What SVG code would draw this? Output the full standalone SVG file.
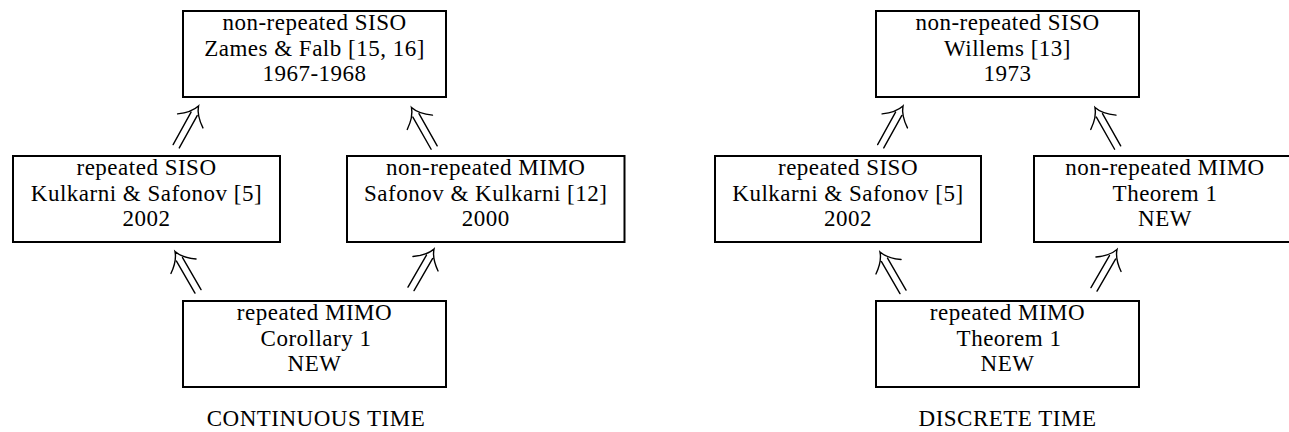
<svg xmlns="http://www.w3.org/2000/svg" width="1289" height="432" viewBox="0 0 1289 432">
<defs>
<style>
.box{fill:#fff;stroke:#000;stroke-width:2}
.t{font-family:"Liberation Serif","Times New Roman",serif;font-size:23px;letter-spacing:0.5px;fill:#000;text-anchor:middle}
.arr{fill:none;stroke:#000;stroke-width:1.4;stroke-linecap:round}
</style>
<path id="dbl" d="M -46,-3.5 L -9,-3.5 M -46,3.5 L -9,3.5 M -17,-14.5 Q -9,-3 0,0 Q -9,3 -17,14.5"/>
</defs>
<rect width="1289" height="432" fill="#fff"/>

<g id="connectors" class="arr">
<use href="#dbl" transform="translate(198.5,106) rotate(-61)"/>
<use href="#dbl" transform="translate(411.5,107.5) rotate(-119.5)"/>
<use href="#dbl" transform="translate(175,251.5) rotate(-120)"/>
<use href="#dbl" transform="translate(434,249) rotate(-60)"/>
<use href="#dbl" transform="translate(903,106) rotate(-61)"/>
<use href="#dbl" transform="translate(1095,107.5) rotate(-119.5)"/>
<use href="#dbl" transform="translate(880,252) rotate(-120)"/>
<use href="#dbl" transform="translate(1117,249.5) rotate(-60)"/>
</g>

<g id="ct-top">
<rect class="box" x="183" y="11" width="263" height="86"/>
<text class="t" x="314.5" y="30">non-repeated SISO</text>
<text class="t" x="314.5" y="55.5">Zames &amp; Falb [15, 16]</text>
<text class="t" x="314.5" y="81">1967-1968</text>
</g>
<g id="ct-midleft">
<rect class="box" x="13" y="156" width="267" height="86"/>
<text class="t" x="146.5" y="175">repeated SISO</text>
<text class="t" x="146.5" y="200.5">Kulkarni &amp; Safonov [5]</text>
<text class="t" x="146.5" y="226">2002</text>
</g>
<g id="ct-midright">
<rect class="box" x="347" y="156" width="277.5" height="86"/>
<text class="t" x="485.75" y="175">non-repeated MIMO</text>
<text class="t" x="485.75" y="200.5">Safonov &amp; Kulkarni [12]</text>
<text class="t" x="485.75" y="226">2000</text>
</g>
<g id="ct-bottom">
<rect class="box" x="183" y="301" width="263" height="86"/>
<text class="t" x="314.5" y="320">repeated MIMO</text>
<text class="t" x="316" y="345.5">Corollary 1</text>
<text class="t" x="314.5" y="371">NEW</text>
</g>
<text id="ct-label" class="t" x="316" y="426">CONTINUOUS TIME</text>

<g id="dt-top">
<rect class="box" x="876" y="11" width="263" height="86"/>
<text class="t" x="1007.5" y="30">non-repeated SISO</text>
<text class="t" x="1007.5" y="55.5">Willems [13]</text>
<text class="t" x="1007.5" y="81">1973</text>
</g>
<g id="dt-midleft">
<rect class="box" x="715" y="156" width="266" height="86"/>
<text class="t" x="848" y="175">repeated SISO</text>
<text class="t" x="848" y="200.5">Kulkarni &amp; Safonov [5]</text>
<text class="t" x="848" y="226">2002</text>
</g>
<g id="dt-midright">
<rect class="box" x="1034" y="156" width="280" height="86"/>
<text class="t" x="1165" y="175">non-repeated MIMO</text>
<text class="t" x="1165" y="200.5">Theorem 1</text>
<text class="t" x="1165" y="226">NEW</text>
</g>
<g id="dt-bottom">
<rect class="box" x="876" y="301" width="263" height="86"/>
<text class="t" x="1007.5" y="320">repeated MIMO</text>
<text class="t" x="1009" y="345.5">Theorem 1</text>
<text class="t" x="1007.5" y="371">NEW</text>
</g>
<text id="dt-label" class="t" x="1007.5" y="426">DISCRETE TIME</text>
</svg>
